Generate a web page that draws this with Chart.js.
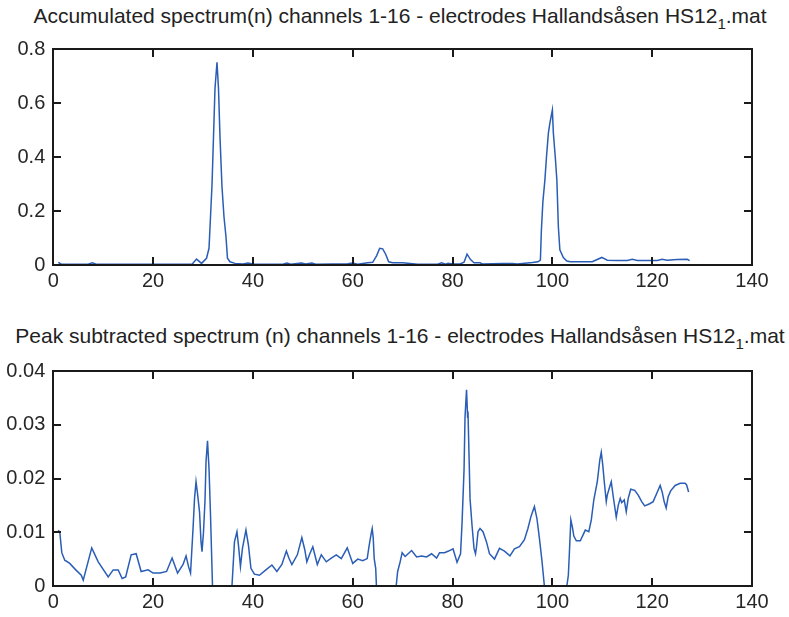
<!DOCTYPE html>
<html>
<head>
<meta charset="utf-8">
<script src="https://cdn.jsdelivr.net/npm/chart.js@4.4.1/dist/chart.umd.min.js"></script>
<style>
    body { margin: 0; background: #fff; }
    #wrap { position: relative; width: 789px; height: 617px; overflow: hidden; }
    canvas { position: absolute; left: 0; }
    .titulo {
        position: absolute; left: 0; width: 800px; text-align: center;
        font-family: 'Liberation Sans', Arial, sans-serif; font-size: 21px;
        line-height: 20px; color: #222; white-space: nowrap;
    }
    .titulo sub { font-size: 15px; vertical-align: -6px; line-height: 0; }
</style>
</head>
<body>
<div id="wrap">
    <div class="titulo" style="top:6px">Accumulated spectrum(n) channels 1-16 - electrodes Hallandsåsen HS12<sub>1</sub>.mat</div>
    <canvas id="graficoTopo" width="789" height="300" style="top:0"></canvas>
    <div class="titulo" style="top:326px">Peak subtracted spectrum (n) channels 1-16 - electrodes Hallandsåsen HS12<sub>1</sub>.mat</div>
    <canvas id="graficoBase" width="789" height="307" style="top:310px"></canvas>
</div>
<script>
// Eixos
const xTicks = [0, 20, 40, 60, 80, 100, 120, 140];
const topoYTicks = [0, 0.2, 0.4, 0.6, 0.8];
const baseYTicks = [0, 0.01, 0.02, 0.03, 0.04];

// Espectro acumulado (canal, valor)
const topoX = [1, 1.6, 7, 7.8, 8.6, 27.8, 28.7, 29.7, 30.7, 31.2, 31.5, 31.8, 32.1, 32.4, 32.8,
    33.1, 33.4, 33.8, 34.2, 34.6, 34.9, 35.4, 36.4, 38, 39, 40, 46, 46.8, 47.6, 49.7, 50.6,
    51.8, 52.6, 59, 60, 61, 63, 64, 64.8, 65.4, 66, 66.6, 67.2, 68, 70, 73, 77, 77.8, 78.6,
    79.1, 80, 81.5, 82.3, 82.9, 83.6, 84.3, 85.5, 86, 90, 92, 93, 96, 97.1, 97.6, 97.8,
    98.1, 98.5, 98.8, 99.2, 99.5, 99.8, 100, 100.2, 100.6, 100.9, 101.2, 101.5, 102.2,
    102.9, 103.6, 108, 109.9, 111, 113, 115, 116, 117, 121, 122, 123, 125, 127, 127.5];
const topoY = [0.010, 0.003, 0.003, 0.008, 0.003, 0.003, 0.022, 0.006, 0.025, 0.062, 0.179,
    0.297, 0.476, 0.655, 0.752, 0.655, 0.476, 0.29, 0.179, 0.105, 0.025, 0.012, 0.006, 0.004,
    0.007, 0.004, 0.003, 0.007, 0.003, 0.007, 0.004, 0.007, 0.003, 0.005, 0.007, 0.003,
    0.008, 0.01, 0.035, 0.062, 0.06, 0.04, 0.012, 0.008, 0.008, 0.003, 0.003, 0.008, 0.003,
    0.006, 0.004, 0.004, 0.01, 0.04, 0.02, 0.008, 0.008, 0.004, 0.006, 0.006, 0.004, 0.009,
    0.012, 0.018, 0.13, 0.235, 0.315, 0.396, 0.489, 0.526, 0.556, 0.575, 0.489, 0.396,
    0.315, 0.142, 0.056, 0.028, 0.015, 0.012, 0.012, 0.028, 0.018, 0.017, 0.017, 0.021,
    0.017, 0.017, 0.021, 0.018, 0.02, 0.021, 0.016];

// Espectro com picos subtraidos
const baseX = [1, 1.3, 1.7, 2.3, 3.3, 4.5, 5.6, 6, 7.7, 9, 11, 12, 13, 13.8, 14.5, 15.6, 16.6,
    17.6, 19, 20, 21.4, 22.7, 23.8, 24.9, 26, 26.6, 27.1, 27.5, 28, 28.3, 28.6, 28.9, 29.3,
    29.6, 29.8, 30.1, 30.4, 30.6, 30.9, 31.2, 31.5, 31.9, 35.8, 36.3, 36.8, 37.1, 37.5, 37.9,
    38.6, 39.1, 39.6, 40.3, 41.3, 42.6, 43.8, 44.8, 45.8, 46.7, 47.2, 47.8, 48.9, 49.8, 50.4,
    50.8, 51.4, 52, 52.9, 53.7, 54.7, 55.7, 56.7, 57.7, 58.9, 60, 61, 62, 62.9, 63.3, 63.7,
    63.9, 64.1, 64.3, 64.6, 64.75, 68.7, 69, 69.5, 69.9, 70.5, 71.8, 72.8, 73.8, 74.8, 75.8,
    76.8, 77.4, 78.4, 79.2, 80.1, 80.9, 81.6, 81.9, 82.3, 82.5, 82.8, 83, 83.1, 83.3, 83.5,
    83.9, 84.3, 84.6, 84.8, 85.1, 85.5, 86.1, 86.8, 87.4, 88.4, 89.4, 90.4, 91.5, 92.4, 93.4,
    94.4, 95.1, 95.7, 96.4, 96.9, 97.4, 97.9, 98.4, 102.9, 103.2, 103.4, 103.7, 104, 104.3,
    104.8, 105.6, 106.6, 107.3, 107.8, 108.3, 109, 109.5, 109.8, 110.1, 110.4, 110.8, 111,
    111.4, 111.8, 112.2, 112.8, 113.2, 113.6, 113.9, 114.4, 114.8, 115.2, 115.7, 116.5,
    117.2, 117.9, 118.5, 119.5, 120.2, 120.9, 121.6, 122, 122.4, 122.8, 123.2, 123.7, 124.6,
    125.6, 126.6, 126.9, 127.3];
const baseY = [0.0104, 0.0100, 0.0062, 0.0048, 0.0042, 0.0030, 0.0020, 0.0011, 0.0071, 0.0045,
    0.0017, 0.0030, 0.0030, 0.0014, 0.0017, 0.0058, 0.0060, 0.0027, 0.0030, 0.0024, 0.0024,
    0.0027, 0.0052, 0.0024, 0.0040, 0.0056, 0.0036, 0.0024, 0.0107, 0.0163, 0.0194, 0.0172,
    0.0138, 0.0082, 0.0064, 0.0101, 0.0160, 0.0231, 0.0270, 0.0219, 0.0132, 0, 0, 0.0082,
    0.0101, 0.0076, 0.0036, 0.0070, 0.0104, 0.0076, 0.0033, 0.0022, 0.0020, 0.0030, 0.0039,
    0.0027, 0.0040, 0.0065, 0.0052, 0.0040, 0.0058, 0.0090, 0.0067, 0.0045, 0.0060, 0.0073,
    0.0040, 0.0058, 0.0045, 0.0052, 0.0058, 0.0051, 0.0071, 0.0042, 0.0050, 0.0047, 0.0051,
    0.0076, 0.0098, 0.0107, 0.0090, 0.0051, 0.0033, 0, 0, 0.0027, 0.0045, 0.0062, 0.0055,
    0.0066, 0.0054, 0.0056, 0.0054, 0.0060, 0.0052, 0.0062, 0.0062, 0.0065, 0.0069, 0.0044,
    0.0060, 0.0117, 0.0216, 0.0315, 0.0365, 0.0318, 0.0320, 0.0244, 0.0163, 0.0113, 0.0070,
    0.0060, 0.0073, 0.0101, 0.0107, 0.0101, 0.0082, 0.0060, 0.0050, 0.0070, 0.0065, 0.0056,
    0.0069, 0.0073, 0.0086, 0.0107, 0.0129, 0.0148, 0.0126, 0.0089, 0.0048, 0, 0, 0.0020,
    0.0060, 0.0123, 0.0110, 0.0093, 0.0084, 0.0084, 0.0104, 0.0101, 0.0123, 0.0160, 0.0194,
    0.0234, 0.0249, 0.0225, 0.0194, 0.0157, 0.0169, 0.0182, 0.0194, 0.0166, 0.0128, 0.0150,
    0.0163, 0.0155, 0.0160, 0.0138, 0.0163, 0.0180, 0.0178, 0.0169, 0.0157, 0.0149, 0.0153,
    0.0157, 0.0172, 0.0187, 0.0175, 0.0157, 0.0145, 0.0166, 0.0177, 0.0187, 0.0191, 0.0191,
    0.0188, 0.0175];

const COR_LINHA = '#2a5db5';
const COR_EIXO = '#1a1a1a';

Chart.defaults.font.family = "'Liberation Sans', Arial, sans-serif";
Chart.defaults.font.size = 20;
Chart.defaults.color = '#262626';

// posicao pela escala do Chart.js
function pixel(escala, v) {
    let p = escala.getPixelForValue(v);
    if (!isFinite(p)) p = escala.getPixelForDecimal((v - escala.min) / (escala.max - escala.min));
    return Math.round(p);
}

// Caixa estilo MATLAB com marcas para dentro (desenhada com retangulos cheios)
const caixaPlugin = {
    id: 'caixa',
    afterDraw(chart) {
        const ctx = chart.ctx;
        const a = chart.chartArea;
        const x = chart.scales.x;
        const y = chart.scales.y;
        const yTicks = y.max > 0.1 ? topoYTicks : baseYTicks;
        const esq = Math.round(a.left), dir = Math.round(a.right);
        const cima = Math.round(a.top), baixo = Math.round(a.bottom);
        const t = 2, comp = 8;
        ctx.save();
        ctx.globalAlpha = 1;
        ctx.fillStyle = COR_EIXO;
        xTicks.forEach(v => {
            const px = pixel(x, v);
            ctx.fillRect(px - 1, baixo - comp, t, comp);
            ctx.fillRect(px - 1, cima, t, comp);
        });
        yTicks.forEach(v => {
            const py = pixel(y, v);
            ctx.fillRect(esq, py - 1, comp, t);
            ctx.fillRect(dir - comp, py - 1, comp, t);
        });
        ctx.fillRect(esq - 1, cima - 1, dir - esq + t, t);
        ctx.fillRect(esq - 1, baixo - 1, dir - esq + t, t);
        ctx.fillRect(esq - 1, cima - 1, t, baixo - cima + t);
        ctx.fillRect(dir - 1, cima - 1, t, baixo - cima + t);
        ctx.restore();
    }
};

function criarGrafico(id, xs, ys, yTicks, yMax, topo, alturaX) {
    const pontos = xs.map((v, i) => ({ x: v, y: ys[i] }));
    new Chart(document.getElementById(id), {
        type: 'line',
        data: {
            datasets: [{
                data: pontos,
                borderColor: COR_LINHA,
                borderWidth: 1.5,
                pointRadius: 0,
                tension: 0,
                fill: false
            }]
        },
        options: {
            responsive: false,
            animation: false,
            layout: { padding: { top: topo, right: 37, left: 0, bottom: 0 } },
            plugins: {
                legend: { display: false },
                tooltip: { enabled: false }
            },
            scales: {
                x: {
                    type: 'linear', min: 0, max: 140,
                    afterBuildTicks: s => { s.ticks = xTicks.map(v => ({ value: v })); },
                    afterFit: s => { s.height = alturaX; },
                    grid: { display: false, drawTicks: false },
                    border: { display: false },
                    ticks: { padding: 4, callback: v => String(v), maxRotation: 0 }
                },
                y: {
                    type: 'linear', min: 0, max: yMax,
                    afterBuildTicks: s => { s.ticks = yTicks.map(v => ({ value: v })); },
                    afterFit: s => { s.width = 53.3; },
                    grid: { display: false, drawTicks: false },
                    border: { display: false },
                    ticks: { padding: 8, callback: v => String(v) }
                }
            }
        },
        plugins: [caixaPlugin]
    });
}

criarGrafico('graficoTopo', topoX, topoY, topoYTicks, 0.8, 49.3, 35);
criarGrafico('graficoBase', baseX, baseY, baseYTicks, 0.04, 61, 31);
</script>
</body>
</html>
